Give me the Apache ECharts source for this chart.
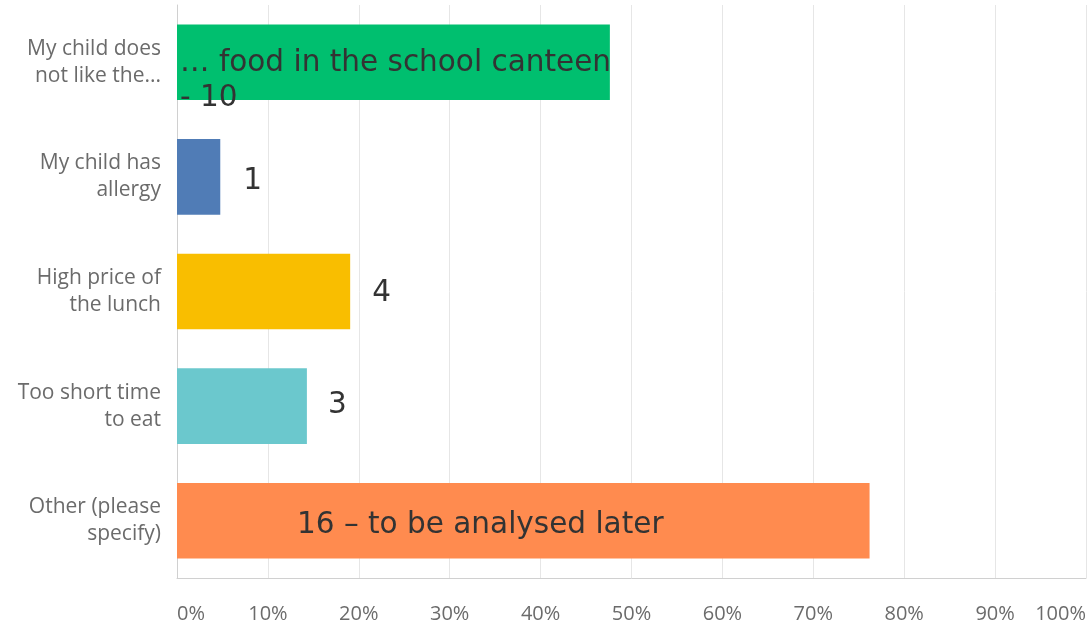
<!DOCTYPE html>
<html><head><meta charset="utf-8">
<script src="https://cdn.jsdelivr.net/npm/echarts@6/dist/echarts.min.js"></script>
<style>html,body{margin:0;padding:0;background:#fff}#c{width:1089px;height:624px}</style>
</head><body><div id="c"></div>
<script>
const categories = ["My child does\nnot like the...", "My child has\nallergy", "High price of\nthe lunch", "Too short time\nto eat", "Other (please\nspecify)"];
const percentValues = [47.62, 4.76, 19.05, 14.29, 76.19];
const annotations = ["… food in the school canteen\n- 10", "1", "4", "3", "16 – to be analysed later"];
const barColors = ["#00bf6f", "#507cb6", "#f9be00", "#6bc8cd", "#ff8b4f"];
const tickValues = [0,10,20,30,40,50,60,70,80,90,100];

const labelStyles = [
  {position: 'insideLeft', distance: 3, offset: [0, 19]},
  {position: 'right', distance: 23, offset: [0, 4]},
  {position: 'right', distance: 22, offset: [0, 2]},
  {position: 'right', distance: 21, offset: [0, -1]},
  {position: 'insideLeft', distance: 0, offset: [120, 5]}
];

const chart = echarts.init(document.getElementById('c'), null, {renderer: 'canvas'});
chart.setOption({
  animation: false,
  grid: {left: 177, right: 2, top: 5, bottom: 46},
  xAxis: {
    type: 'value', min: 0, max: 100, interval: 10,
    axisLine: {show: true, lineStyle: {color: '#d0d0d0', width: 1}},
    axisTick: {show: false},
    splitLine: {show: true, lineStyle: {color: '#e6e6e6', width: 1}},
    axisLabel: {
      formatter: v => v + '%', margin: 26,
      color: '#6b6b6b', fontFamily: 'Open Sans', fontSize: 20,
      alignMinLabel: 'left', alignMaxLabel: 'right'
    }
  },
  yAxis: {
    type: 'category', data: categories, inverse: true,
    axisLine: {show: true, lineStyle: {color: '#d0d0d0', width: 1}},
    axisTick: {show: false},
    axisLabel: {
      color: '#6b6b6b', fontFamily: 'Open Sans', fontSize: 21, lineHeight: 27,
      margin: 16, align: 'right'
    }
  },
  series: [{
    type: 'bar',
    barWidth: '66%',
    data: percentValues.map((v, i) => ({
      value: v,
      itemStyle: {color: barColors[i]},
      label: Object.assign({
        show: true,
        formatter: annotations[i],
        color: '#333333',
        fontFamily: 'DejaVu Sans',
        fontSize: 29.5,
        lineHeight: 35,
        align: 'left'
      }, labelStyles[i])
    }))
  }]
});
</script>
</body></html>
